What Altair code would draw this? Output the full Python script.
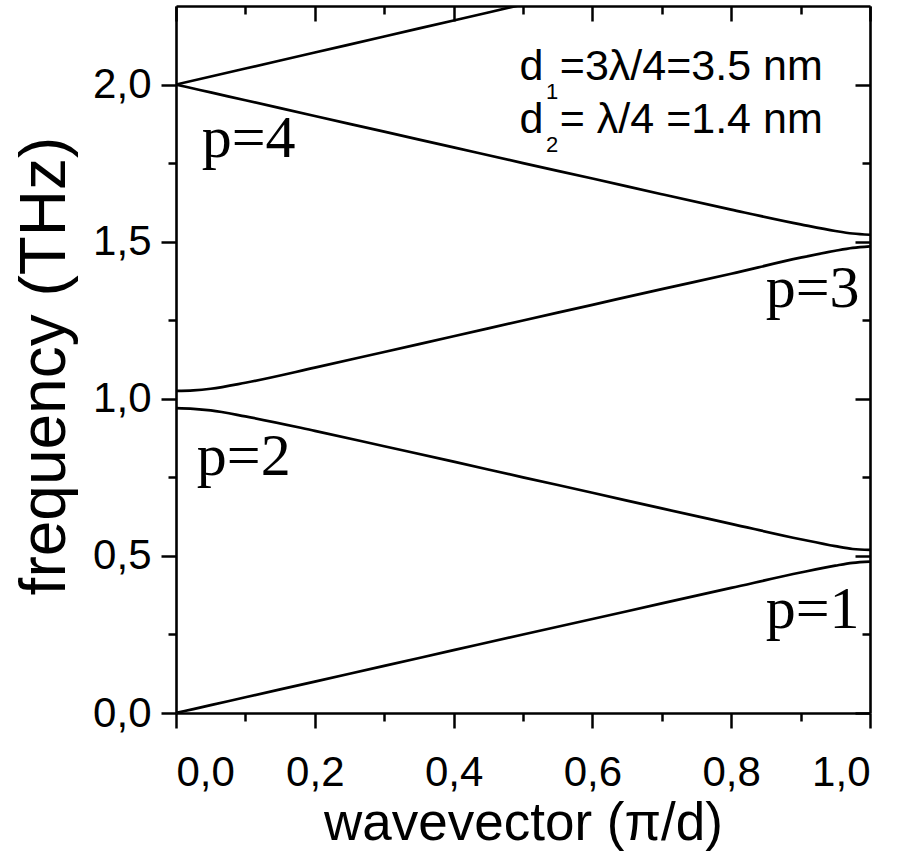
import altair as alt
import pandas as pd

# ---- data ----
q_grid = [0, 0.025, 0.05, 0.1, 0.2, 0.3, 0.4, 0.5, 0.6, 0.7, 0.8, 0.9, 0.95, 0.975, 1.0]
p1 = [0, 0.0125, 0.025, 0.050, 0.100, 0.150, 0.200, 0.250, 0.299, 0.349, 0.398, 0.447, 0.469, 0.478, 0.482]
p2 = [0.970, 0.968, 0.963, 0.944, 0.898, 0.849, 0.800, 0.750, 0.701, 0.651, 0.602, 0.553, 0.531, 0.522, 0.519]
p3 = [1.025, 1.027, 1.032, 1.051, 1.099, 1.149, 1.199, 1.249, 1.299, 1.349, 1.398, 1.449, 1.471, 1.480, 1.485]
p4 = [2.000, 1.9875, 1.975, 1.950, 1.900, 1.850, 1.800, 1.750, 1.701, 1.651, 1.602, 1.555, 1.534, 1.526, 1.522]
q5 = [0, 0.1, 0.2, 0.3, 0.4, 0.5]
p5 = [2.000, 2.051, 2.102, 2.153, 2.204, 2.255]

x_major = [0, 0.2, 0.4, 0.6, 0.8, 1.0]
x_minor = [0.1, 0.3, 0.5, 0.7, 0.9]
y_major = [0, 0.5, 1.0, 1.5, 2.0]
y_minor = [0.25, 0.75, 1.25, 1.75]

band_labels = ["p=1", "p=2", "p=3", "p=4"]
band_label_x = [0.985, 0.030, 0.985, 0.037]
band_label_y = [0.271, 0.758, 1.293, 1.771]
band_label_align = ["right", "left", "right", "left"]

rows = []
for name, vals in [("1", p1), ("2", p2), ("3", p3), ("4", p4)]:
    for q, f in zip(q_grid, vals):
        rows.append({"branch": name, "q": q, "f": f})
for q, f in zip(q5, p5):
    rows.append({"branch": "5", "q": q, "f": f})
df = pd.DataFrame(rows)

W, H = 694, 707
XS = alt.Scale(domain=[0, 1], nice=False, zero=False)
YS = alt.Scale(domain=[0, 2.25], nice=False, zero=False)
FONT = "Liberation Sans"
lab_expr = "replace(format(datum.value, '.1f'), '.', ',')"
DOM = dict(domain=True, domainColor="black", domainWidth=2.6)

# main lines with the labelled axes
lines = alt.Chart(df).mark_line(color="black", strokeWidth=2.7, clip=True, interpolate="monotone").encode(
    x=alt.X("q:Q", scale=XS, axis=alt.Axis(
        orient="bottom", values=x_major, tickSize=15, tickWidth=2.5, tickColor="black",
        labelExpr=lab_expr, labelFont=FONT, labelFontSize=42, labelColor="black", labelPadding=24,
        grid=False, title="wavevector (π/d)", titleFont=FONT, titleFontSize=53,
        titleFontWeight="normal", titleColor="black", titleX=W / 2, titleY=126,
        titleBaseline="alphabetic", titleAlign="center", **DOM)),
    y=alt.Y("f:Q", scale=YS, axis=alt.Axis(
        orient="left", values=y_major, tickSize=15, tickWidth=2.5, tickColor="black",
        labelExpr=lab_expr, labelFont=FONT, labelFontSize=42, labelColor="black", labelPadding=10,
        grid=False, title="frequency (THz)", titleFont=FONT, titleFontSize=64,
        titleFontWeight="normal", titleColor="black", titleX=-112, titleY=H / 2 + 6, titleAngle=270,
        titleBaseline="alphabetic", titleAlign="center", **DOM)),
    detail="branch:N",
)

def tick_layer(xoff, yoff, xv, yv, size, dom):
    d = DOM if dom else dict(domain=False)
    return alt.Chart(df).mark_line(strokeOpacity=0).encode(
        x=alt.X("q:Q", scale=XS, axis=alt.Axis(
            orient="bottom", offset=xoff, values=xv, tickSize=size, tickWidth=2.5,
            tickColor="black", labels=False, grid=False, title=None, **d)),
        y=alt.Y("f:Q", scale=YS, axis=alt.Axis(
            orient="left", offset=yoff, values=yv, tickSize=size, tickWidth=2.5,
            tickColor="black", labels=False, grid=False, title=None, **d)),
        detail="branch:N",
    )

minor_out = tick_layer(0, 0, x_minor, y_minor, 8, False)
major_in = tick_layer(-H, -W, x_major, y_major, 15, True)
minor_in = tick_layer(-H, -W, x_minor, y_minor, 8, False)

lab_df = pd.DataFrame({"t": band_labels, "x": band_label_x, "y": band_label_y, "a": band_label_align})
labs_left = alt.Chart(lab_df[lab_df.a == "left"]).mark_text(
    font="Liberation Serif", fontSize=60, align="left", baseline="alphabetic", color="black").encode(
    x=alt.X("x:Q", scale=XS, axis=None), y=alt.Y("y:Q", scale=YS, axis=None), text="t:N")
labs_right = alt.Chart(lab_df[lab_df.a == "right"]).mark_text(
    font="Liberation Serif", fontSize=60, align="right", baseline="alphabetic", color="black").encode(
    x=alt.X("x:Q", scale=XS, axis=None), y=alt.Y("y:Q", scale=YS, axis=None), text="t:N")

# annotation (d1, d2) pieces
ann_main = pd.DataFrame({"t": ["d", "d", "=3λ/4=3.5 nm", "= λ/4 =1.4 nm"],
                         "x": [0.495, 0.495, 0.553, 0.553],
                         "y": [2.016, 1.847, 2.016, 1.847]})
ann_sub = pd.DataFrame({"t": ["1", "2"], "x": [0.533, 0.533], "y": [1.953, 1.784]})
ann1 = alt.Chart(ann_main).mark_text(font=FONT, fontSize=43, align="left", baseline="alphabetic",
                                     color="black").encode(
    x=alt.X("x:Q", scale=XS, axis=None), y=alt.Y("y:Q", scale=YS, axis=None), text="t:N")
ann2 = alt.Chart(ann_sub).mark_text(font=FONT, fontSize=22, align="left", baseline="alphabetic",
                                    color="black").encode(
    x=alt.X("x:Q", scale=XS, axis=None), y=alt.Y("y:Q", scale=YS, axis=None), text="t:N")

chart = alt.layer(lines, minor_out, major_in, minor_in, labs_left, labs_right, ann1, ann2).resolve_axis(
    x="independent", y="independent"
).properties(
    width=W, height=H,
    autosize=alt.AutoSizeParams(type="none"),
    padding={"left": 176, "top": 6, "right": 47, "bottom": 140},
).configure_view(stroke=None).configure(background="white")

chart.save("out.html", embed_options={"renderer": "svg", "actions": False})
